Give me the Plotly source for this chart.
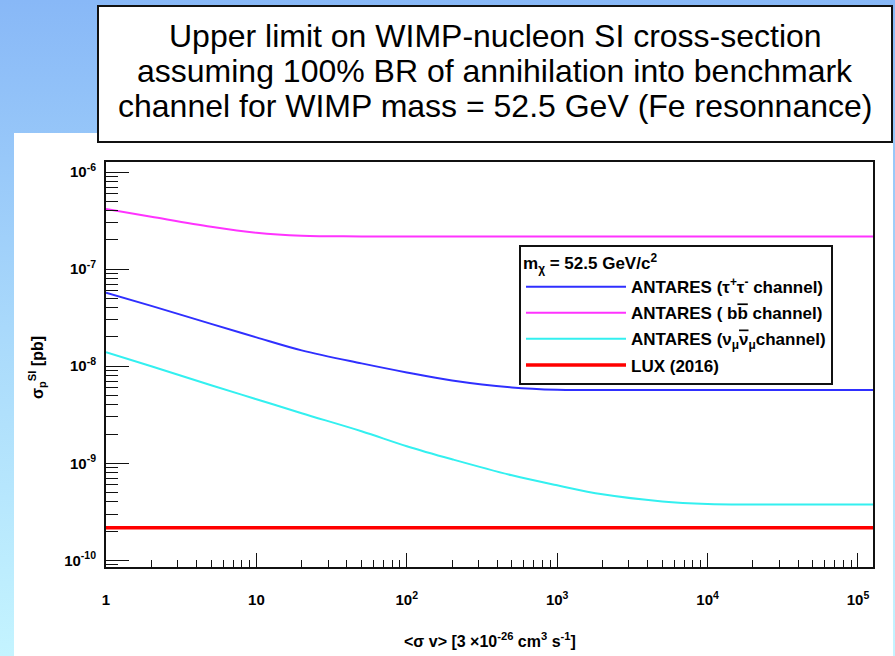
import base64
import plotly.graph_objects as go

# <sigma v> in units of 3e-26 cm^3/s, and SI cross-section limits in pb
sv_tau = [1, 2, 5, 10, 20, 50, 100, 200, 500, 1000, 2000, 1.3e5]
sig_tau = [5.70e-8, 4.18e-8, 2.73e-8, 1.98e-8, 1.455e-8, 1.069e-8, 8.63e-9,
           7.14e-9, 6.04e-9, 5.72e-9, 5.70e-9, 5.70e-9]

sv_bb = [1, 2, 5, 10, 20, 50, 1.3e5]
sig_bb = [4.16e-7, 3.46e-7, 2.73e-7, 2.37e-7, 2.21e-7, 2.17e-7, 2.17e-7]

sv_nu = [1, 2, 5, 10, 20, 50, 100, 200, 500, 1000, 2000, 5000, 1e4, 2e4, 1.3e5]
sig_nu = [1.39e-8, 1.0e-8, 6.37e-9, 4.57e-9, 3.28e-9, 2.14e-9, 1.50e-9, 1.10e-9,
          7.52e-10, 5.93e-10, 4.79e-10, 4.05e-10, 3.82e-10, 3.77e-10, 3.77e-10]

sv_lux = [1, 1.3e5]
sig_lux = [2.17e-10, 2.17e-10]

x_tickvals = [1, 10, 100, 1e3, 1e4, 1e5]
x_ticktext = ["1", "10", "10<sup>2</sup>", "10<sup>3</sup>", "10<sup>4</sup>", "10<sup>5</sup>"]
y_tickvals = [1e-10, 1e-9, 1e-8, 1e-7, 1e-6]
y_ticktext = ["10<sup>-10</sup>", "10<sup>-9</sup>", "10<sup>-8</sup>", "10<sup>-7</sup>", "10<sup>-6</sup>"]

title_lines = [
    "Upper limit on WIMP-nucleon SI cross-section",
    "assuming 100% BR of annihilation into benchmark",
    "channel for WIMP mass = 52.5 GeV (Fe resonnance)",
]

W, H = 895, 656
L, R, T, B = 106, 22, 162, 89
PW, PH = W - L - R, H - T - B


def px(x):
    return (x - L) / PW


def py(y):
    return (H - B - y) / PH


FONT = "Liberation Sans, Arial, Helvetica, sans-serif"

x_minor = [k * 10 ** d for d in range(0, 5) for k in range(2, 10)]
y_minor = [k * 10.0 ** d for d in range(-11, -5) for k in range(2, 10)
           if 8.5e-11 < k * 10.0 ** d < 1.3e-6]

fig = go.Figure()

series = [
    ("ANTARES (τ<sup>+</sup>τ<sup>-</sup> channel)", sv_tau, sig_tau, "#2f2fff", 2),
    ("ANTARES ( b<span style=\"text-decoration:overline\">b</span> channel)", sv_bb, sig_bb, "#ff33ff", 2),
    ("ANTARES (ν<sub>μ</sub><span style=\"text-decoration:overline\">ν</span><sub>μ</sub>channel)",
     sv_nu, sig_nu, "#33f0f0", 2),
    ("LUX (2016)", sv_lux, sig_lux, "#ff0000", 3.5),
]
for i, (name, xs, ys, col, w) in enumerate(series):
    fig.add_trace(go.Scatter(
        x=xs, y=ys, mode="lines", name=name, legendgroup=f"g{i}",
        line=dict(color=col, width=w, shape="spline", smoothing=1.0),
    ))

# slide background: blue gradient with a white panel behind the plot
svg = f'''<svg xmlns="http://www.w3.org/2000/svg" width="{W}" height="{H}" viewBox="0 0 {W} {H}" preserveAspectRatio="none">
<defs><linearGradient id="g" x1="0" y1="0" x2="0" y2="1">
<stop offset="0" stop-color="#88b8f7"/><stop offset="0.5" stop-color="#a9d9fb"/><stop offset="1" stop-color="#c4f4ff"/>
</linearGradient></defs>
<rect width="{W}" height="{H}" fill="url(#g)"/>
<rect x="14" y="133" width="879" height="{H - 133}" fill="#ffffff"/>
</svg>'''
src = "data:image/svg+xml;base64," + base64.b64encode(svg.encode()).decode()

fig.add_layout_image(dict(
    source=src, xref="paper", yref="paper", x=px(0), y=py(0),
    sizex=W / PW, sizey=H / PH, xanchor="left", yanchor="top",
    sizing="stretch", layer="below",
))

# title box
fig.add_shape(type="rect", xref="paper", yref="paper",
              x0=px(98), x1=px(892), y0=py(142), y1=py(6),
              line=dict(color="#111111", width=2), fillcolor="white")
for yc, txt in zip([36, 71, 106], title_lines):
    fig.add_annotation(text=txt, xref="paper", yref="paper", x=px(495), y=py(yc),
                       xanchor="center", yanchor="middle", showarrow=False,
                       font=dict(family=FONT, size=32, color="black"))

# axis titles
fig.add_annotation(text="<σ v> [3 ×10<sup>-26</sup> cm<sup>3</sup> s<sup>-1</sup>]",
                   xref="paper", yref="paper", x=px(490), y=py(640),
                   xanchor="center", yanchor="middle", showarrow=False,
                   font=dict(family=FONT, size=16, color="black", weight="bold"))
fig.add_annotation(text="σ<sub>p</sub><sup>SI</sup> [pb]",
                   xref="paper", yref="paper", x=px(37), y=py(368),
                   xanchor="center", yanchor="middle", showarrow=False, textangle=-90,
                   font=dict(family=FONT, size=16, color="black", weight="bold"))

tickfont = dict(family=FONT, size=15, color="black", weight="bold")
fig.update_xaxes(
    type="log", range=[0, 5.1], showgrid=False, zeroline=False,
    showline=True, linecolor="#111111", linewidth=2, mirror=True,
    ticks="inside", ticklen=14, tickwidth=1.3, tickcolor="#111111",
    tickmode="array", tickvals=x_tickvals, ticktext=x_ticktext,
    tickfont=tickfont, ticklabelstandoff=18,
    minor=dict(ticks="inside", ticklen=7, tickwidth=1.3, tickcolor="#111111",
               tickmode="array", tickvals=x_minor, showgrid=False),
)
fig.update_yaxes(
    type="log", range=[-10.068, -5.897], showgrid=False, zeroline=False,
    showline=True, linecolor="#111111", linewidth=2, mirror=True,
    ticks="inside", ticklen=23, tickwidth=1.3, tickcolor="#111111",
    tickmode="array", tickvals=y_tickvals, ticktext=y_ticktext,
    tickfont=tickfont, ticklabelstandoff=5,
    minor=dict(ticks="inside", ticklen=12, tickwidth=1.3, tickcolor="#111111",
               tickmode="array", tickvals=y_minor, showgrid=False),
)

fig.update_layout(
    width=W, height=H, autosize=False,
    margin=dict(l=L, r=R, t=T, b=B, pad=0),
    paper_bgcolor="white", plot_bgcolor="rgba(0,0,0,0)",
    showlegend=True,
    legend=dict(
        x=px(519), y=py(245), xanchor="left", yanchor="top",
        bgcolor="white", bordercolor="#111111", borderwidth=2,
        font=dict(family=FONT, size=17, color="black", weight="bold"),
        title=dict(text="m<sub>χ</sub> = 52.5 GeV/c<sup>2</sup>",
                   font=dict(family=FONT, size=17, color="black", weight="bold")),
        traceorder="grouped", tracegroupgap=1, itemwidth=100,
    ),
)

fig.write_html("out.html")
